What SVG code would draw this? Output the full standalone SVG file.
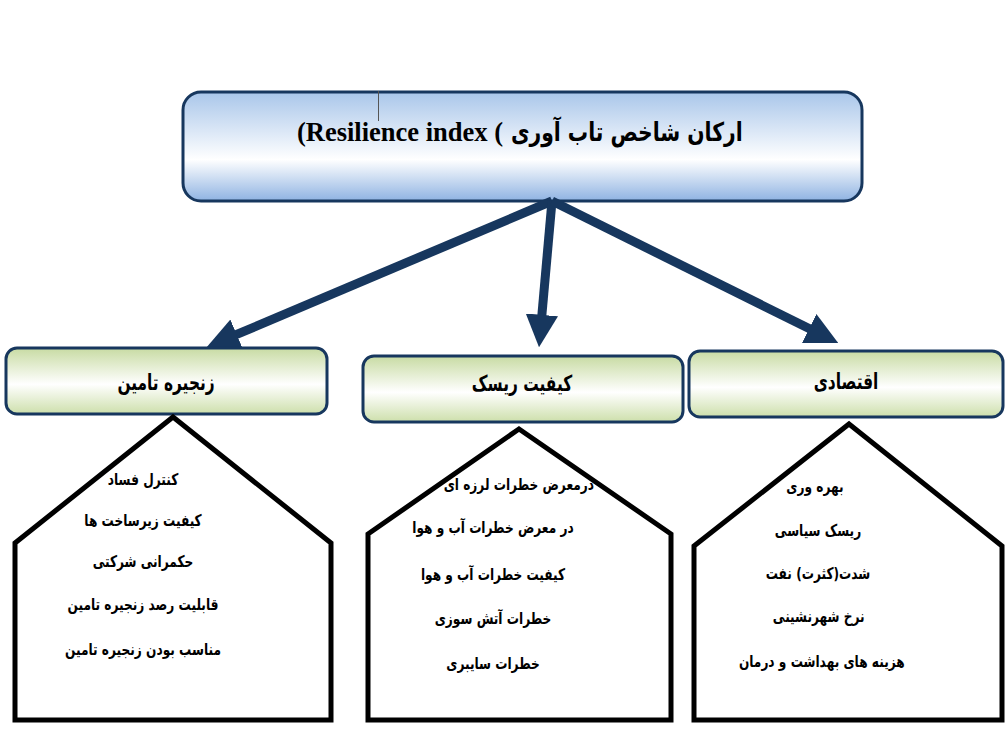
<svg xmlns="http://www.w3.org/2000/svg" width="1005" height="742" viewBox="0 0 1005 742">
<defs>
<linearGradient id="gBlue" x1="0" y1="0" x2="0" y2="1">
<stop offset="0" stop-color="#a9c6ea"/>
<stop offset="0.62" stop-color="#ffffff"/>
<stop offset="1" stop-color="#8fb3e2"/>
</linearGradient>
<linearGradient id="gGreen" x1="0" y1="0" x2="0" y2="1">
<stop offset="0" stop-color="#c8dba3"/>
<stop offset="0.55" stop-color="#ffffff"/>
<stop offset="1" stop-color="#cddfab"/>
</linearGradient>
<marker id="ah" viewBox="0 0 10 10" refX="1" refY="5" markerWidth="3.6" markerHeight="3.6" orient="auto" markerUnits="strokeWidth">
<path d="M0,0 L10,5 L0,10 Z" fill="#17375e"/>
</marker>
</defs>
<style>
.box{stroke:#17375e;stroke-width:3}
.house{fill:#ffffff;stroke:#000000;stroke-width:5;stroke-linejoin:miter}
.lbl{font-family:"DejaVu Sans",sans-serif;font-weight:bold;font-size:22px;fill:#000;text-anchor:middle}
.item{font-family:"DejaVu Sans",sans-serif;font-weight:bold;font-size:16px;fill:#000;text-anchor:middle}
.conn{stroke:#17375e;stroke-width:9;fill:none;marker-end:url(#ah)}
</style>
<rect width="1005" height="742" fill="#ffffff"/>

<g id="root">
<rect class="box" x="183" y="92" width="679" height="109" rx="18" fill="url(#gBlue)"/>
<line x1="378.5" y1="91" x2="378.5" y2="121" stroke="#555" stroke-width="1"/>
<text x="503" y="141" direction="ltr" unicode-bidi="bidi-override" text-anchor="end" font-family="'Liberation Serif',serif" font-weight="bold" font-size="26.5" fill="#000">(Resilience index (</text>
<g transform="translate(511,141) scale(0.78,1)">
<text x="0" y="0" direction="ltr" text-anchor="start" font-family="'DejaVu Sans',sans-serif" font-weight="bold" font-size="26" fill="#000">ارکان شاخص تاب آوری</text>
</g>
</g>

<g id="connectors">
<line class="conn" x1="552" y1="201" x2="233.7" y2="335.7"/>
<line class="conn" x1="552" y1="201" x2="541.6" y2="318.1"/>
<line class="conn" x1="552" y1="201" x2="812.1" y2="330"/>
</g>

<g id="supply">
<rect class="box" x="6" y="348" width="321" height="66" rx="11" fill="url(#gGreen)"/>
<g transform="translate(166,390) scale(0.7,1)"><text class="lbl" x="0" y="0" direction="rtl">زنجیره تامین</text></g>
</g>
<g id="risk">
<rect class="box" x="363" y="356" width="320" height="66" rx="11" fill="url(#gGreen)"/>
<g transform="translate(522,391) scale(0.7,1)"><text class="lbl" x="0" y="0" direction="rtl">کیفیت ریسک</text></g>
</g>
<g id="economic">
<rect class="box" x="689" y="351" width="314" height="66" rx="11" fill="url(#gGreen)"/>
<g transform="translate(846,389) scale(0.7,1)"><text class="lbl" x="0" y="0" direction="rtl">اقتصادی</text></g>
</g>

<g id="supply-items">
<polygon class="house" points="173,417 331,543 331,720 15,720 15,543"/>
<g transform="translate(143,0) scale(0.76,1)">
<text class="item" direction="rtl" x="0" y="485">کنترل فساد</text>
<text class="item" direction="rtl" x="0" y="526">کیفیت زیرساخت ها</text>
<text class="item" direction="rtl" x="0" y="567">حکمرانی شرکتی</text>
<text class="item" direction="rtl" x="0" y="610">قابلیت رصد زنجیره تامین</text>
<text class="item" direction="rtl" x="0" y="655">مناسب بودن زنجیره تامین</text>
</g>
</g>

<g id="risk-items">
<polygon class="house" points="519,429 671,534 671,720 368,720 368,534"/>
<g transform="translate(493,0) scale(0.76,1)">
<text class="item" direction="rtl" x="34" y="490">درمعرض خطرات لرزه ای</text>
<text class="item" direction="rtl" x="0" y="533">در معرض خطرات آب و هوا</text>
<text class="item" direction="rtl" x="0" y="580">کیفیت خطرات  آب و هوا</text>
<text class="item" direction="rtl" x="0" y="624">خطرات  آتش سوزی</text>
<text class="item" direction="rtl" x="0" y="669">خطرات سایبری</text>
</g>
</g>

<g id="economic-items">
<polygon class="house" points="849,424 1002,546 1002,720 694,720 694,546"/>
<g transform="translate(818,0) scale(0.76,1)">
<text class="item" direction="rtl" x="-4" y="492">بهره وری</text>
<text class="item" direction="rtl" x="0" y="536">ریسک سیاسی</text>
<text class="item" direction="rtl" x="0" y="579">شدت(کثرت) نفت</text>
<text class="item" direction="rtl" x="1" y="622">نرخ شهرنشینی</text>
<text class="item" direction="rtl" x="5" y="667">هزینه های بهداشت و درمان</text>
</g>
</g>
</svg>
